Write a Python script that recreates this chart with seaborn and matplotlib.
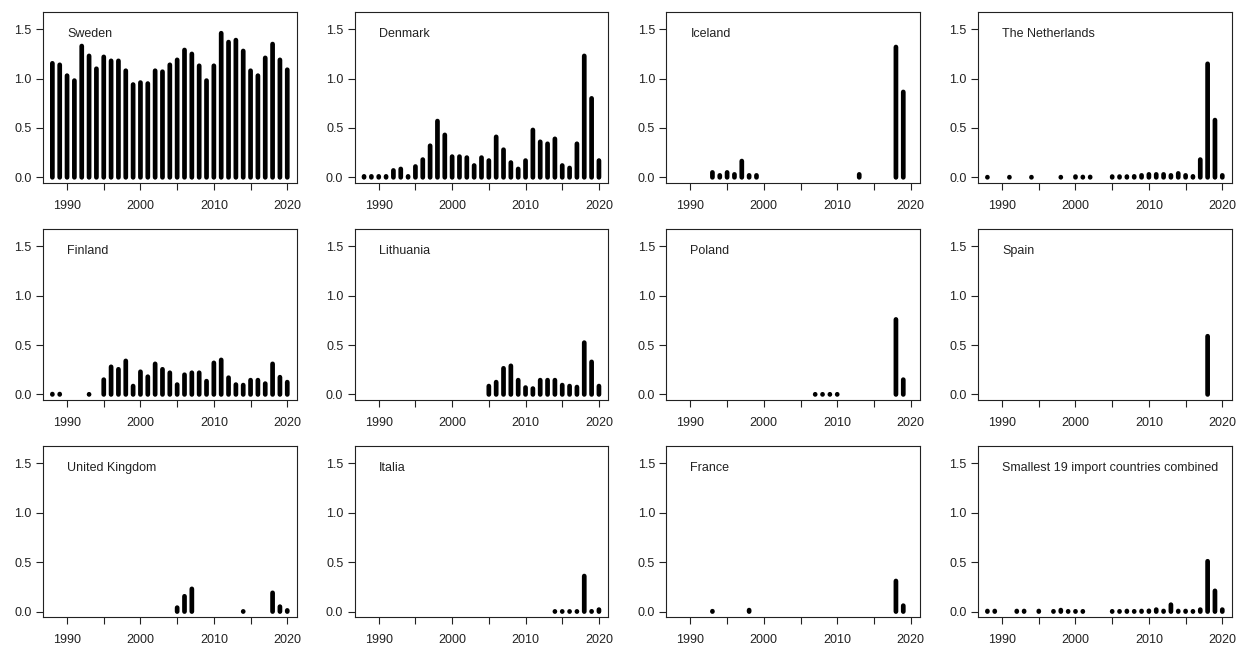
import numpy as np
import pandas as pd
import matplotlib
matplotlib.use("Agg")
import matplotlib.pyplot as plt
import seaborn as sns

# ---- data ----
countries = ["Sweden", "Denmark", "Iceland", "The Netherlands",
             "Finland", "Lithuania", "Poland", "Spain",
             "United Kingdom", "Italia", "France",
             "Smallest 19 import countries combined"]

sweden_years = list(range(1988, 2021))
sweden_vals = [1.155, 1.14, 1.03, 0.98, 1.33, 1.23, 1.10, 1.22, 1.18, 1.18, 1.08,
               0.94, 0.96, 0.95, 1.08, 1.07, 1.14, 1.19, 1.29, 1.25, 1.13, 0.98,
               1.13, 1.46, 1.37, 1.39, 1.28, 1.08, 1.03, 1.21, 1.35, 1.19, 1.09]

denmark_years = list(range(1988, 2021))
denmark_vals = [0.01, 0.01, 0.01, 0.01, 0.07, 0.085, 0.01, 0.11, 0.18, 0.32, 0.57,
                0.43, 0.21, 0.21, 0.20, 0.12, 0.20, 0.17, 0.41, 0.28, 0.15, 0.085,
                0.17, 0.48, 0.36, 0.34, 0.39, 0.12, 0.095, 0.34, 1.23, 0.80, 0.17]

iceland_years = [1993, 1994, 1995, 1996, 1997, 1998, 1999, 2013, 2018, 2019]
iceland_vals = [0.05, 0.02, 0.05, 0.03, 0.165, 0.02, 0.02, 0.03, 1.32, 0.865]

netherlands_years = [1988, 1991, 1994, 1998, 2000, 2001, 2002, 2005, 2006, 2007,
                     2008, 2009, 2010, 2011, 2012, 2013, 2014, 2015, 2016, 2017,
                     2018, 2019, 2020]
netherlands_vals = [0.002, 0.002, 0.002, 0.002, 0.008, 0.004, 0.004, 0.008, 0.008,
                    0.008, 0.01, 0.02, 0.03, 0.03, 0.03, 0.02, 0.04, 0.02, 0.01,
                    0.18, 1.15, 0.58, 0.02]

finland_years = [1988, 1989, 1993] + list(range(1995, 2021))
finland_vals = [0.004, 0.004, 0.002, 0.15, 0.28, 0.255, 0.34, 0.085, 0.23, 0.18,
                0.31, 0.255, 0.22, 0.10, 0.20, 0.22, 0.22, 0.135, 0.32, 0.35, 0.17,
                0.10, 0.095, 0.145, 0.145, 0.11, 0.31, 0.175, 0.125]

lithuania_years = list(range(2005, 2021))
lithuania_vals = [0.085, 0.125, 0.265, 0.29, 0.145, 0.07, 0.06, 0.145, 0.145, 0.145,
                  0.095, 0.085, 0.075, 0.525, 0.33, 0.085]

poland_years = [2007, 2008, 2009, 2010, 2018, 2019]
poland_vals = [0.002, 0.002, 0.002, 0.002, 0.76, 0.15]

spain_years = [2018]
spain_vals = [0.59]

uk_years = [2005, 2006, 2007, 2014, 2018, 2019, 2020]
uk_vals = [0.04, 0.155, 0.23, 0.002, 0.19, 0.05, 0.012]

italia_years = [2014, 2015, 2016, 2017, 2018, 2019, 2020]
italia_vals = [0.002, 0.002, 0.002, 0.002, 0.36, 0.003, 0.02]

france_years = [1993, 1998, 2018, 2019]
france_vals = [0.004, 0.015, 0.31, 0.06]

small19_years = [1988, 1989, 1992, 1993, 1995, 1997, 1998, 1999, 2000, 2001,
                 2005, 2006, 2007, 2008, 2009, 2010, 2011, 2012, 2013, 2014,
                 2015, 2016, 2017, 2018, 2019, 2020]
small19_vals = [0.006, 0.006, 0.006, 0.006, 0.006, 0.003, 0.015, 0.003, 0.003, 0.003,
                0.003, 0.003, 0.006, 0.003, 0.006, 0.008, 0.02, 0.006, 0.07, 0.006,
                0.006, 0.003, 0.02, 0.51, 0.21, 0.02]

series = {
    "Sweden": (sweden_years, sweden_vals),
    "Denmark": (denmark_years, denmark_vals),
    "Iceland": (iceland_years, iceland_vals),
    "The Netherlands": (netherlands_years, netherlands_vals),
    "Finland": (finland_years, finland_vals),
    "Lithuania": (lithuania_years, lithuania_vals),
    "Poland": (poland_years, poland_vals),
    "Spain": (spain_years, spain_vals),
    "United Kingdom": (uk_years, uk_vals),
    "Italia": (italia_years, italia_vals),
    "France": (france_years, france_vals),
    "Smallest 19 import countries combined": (small19_years, small19_vals),
}

x_ticks = [1990, 1995, 2000, 2005, 2010, 2015, 2020]
x_tick_labels = ["1990", "", "2000", "", "2010", "", "2020"]
y_ticks = [0.0, 0.5, 1.0, 1.5]
y_tick_labels = ["0.0", "0.5", "1.0", "1.5"]

rows = []
for c in countries:
    yrs, vals = series[c]
    for y, v in zip(yrs, vals):
        rows.append({"country": c, "year": y, "value": v})
df = pd.DataFrame(rows)

# ---- style ----
sns.set_style("ticks")
plt.rcParams["font.family"] = ["Liberation Sans", "DejaVu Sans"]
plt.rcParams["font.size"] = 9
plt.rcParams["axes.edgecolor"] = "#222222"
plt.rcParams["axes.linewidth"] = 0.8
plt.rcParams["xtick.color"] = "#222222"
plt.rcParams["ytick.color"] = "#222222"
plt.rcParams["xtick.labelcolor"] = "#222222"
plt.rcParams["ytick.labelcolor"] = "#222222"

g = sns.FacetGrid(df, col="country", col_wrap=4, col_order=countries,
                  sharex=True, sharey=True, despine=False, height=2, aspect=1.5)


def spikes(data, **kws):
    ax = plt.gca()
    lc = ax.vlines(data["year"], 0, data["value"], colors="black",
                   linewidth=3.4, capstyle="round")
    lc.set_snap(False)


g.map_dataframe(spikes)
g.set_titles("")
g.set_axis_labels("", "")

fig = g.figure
fig.set_size_inches(12.42, 6.47)
fig.subplots_adjust(left=0.0346, right=0.9917, top=0.9815, bottom=0.0459,
                    wspace=0.2286, hspace=0.269)

for ax, c in zip(g.axes.flat, countries):
    ax.set_xlim(1986.72, 2021.28)
    ax.set_ylim(-0.058, 1.675)
    ax.set_xticks(x_ticks)
    ax.set_xticklabels(x_tick_labels)
    ax.set_yticks(y_ticks)
    ax.set_yticklabels(y_tick_labels)
    ax.tick_params(axis="x", direction="out", length=5.2, width=0.8, pad=7,
                   labelsize=9, labelbottom=True)
    ax.tick_params(axis="y", direction="out", length=5.2, width=0.8, pad=3,
                   labelsize=9, labelleft=True)
    for s in ax.spines.values():
        s.set_visible(True)
        s.set_linewidth(0.8)
        s.set_color("#222222")
    ax.text(1990, 1.45, c, ha="left", va="center", fontsize=9, color="#222222")

fig.savefig("out.png", dpi=100, facecolor="white")
